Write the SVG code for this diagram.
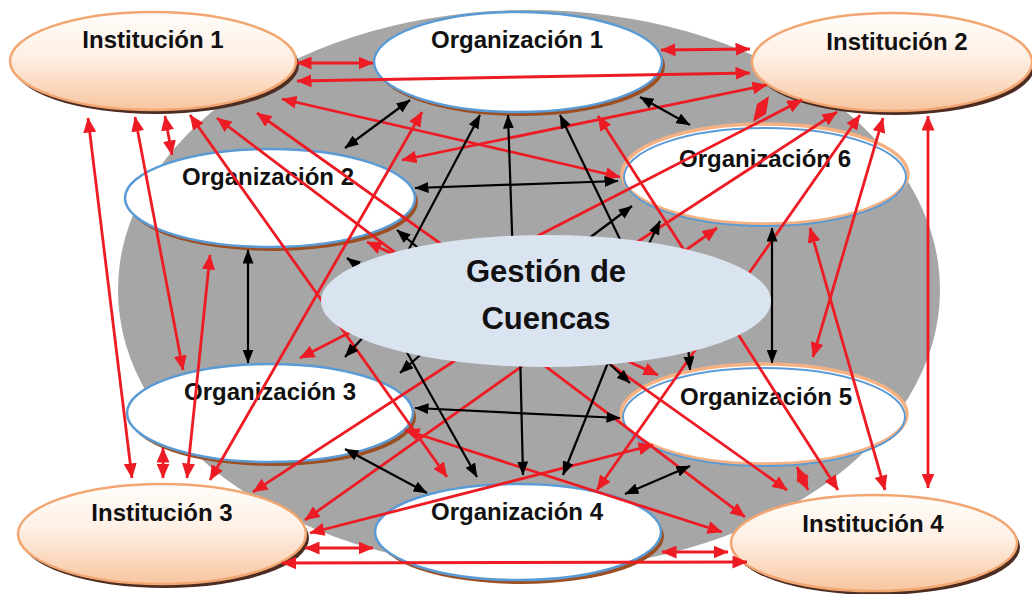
<svg xmlns="http://www.w3.org/2000/svg" width="1032" height="594" viewBox="0 0 1032 594">
<defs>
<linearGradient id="gInst" x1="0" y1="0" x2="0" y2="1">
<stop offset="0" stop-color="#fffdfb"/>
<stop offset="0.45" stop-color="#fef0e4"/>
<stop offset="1" stop-color="#f8c5a0"/>
</linearGradient>
<marker id="rh" viewBox="0 0 15 13" refX="14.5" refY="6.5" markerWidth="15" markerHeight="13" markerUnits="userSpaceOnUse" orient="auto-start-reverse">
<path d="M0,0 L15,6.5 L0,13 z" fill="#ed1c24"/>
</marker>
<marker id="bh" viewBox="0 0 14 11" refX="13.5" refY="5.5" markerWidth="14" markerHeight="11" markerUnits="userSpaceOnUse" orient="auto-start-reverse">
<path d="M0,0 L14,5.5 L0,11 z" fill="#000"/>
</marker>
</defs>
<style>
.inst-sh{fill:#4d2c22}
.inst{fill:url(#gInst);stroke:#f2a772;stroke-width:2.5}
.org-sh{fill:#9c4f22}
.org{fill:#fff;stroke:#5b9bd5;stroke-width:2.5}
.orgo{fill:#fff;stroke:#f4b183;stroke-width:3.5}
.orgb{fill:none;stroke:#5b9bd5;stroke-width:2}
.lbl{font-family:"Liberation Sans",Arial,sans-serif;font-weight:bold;font-size:24px;fill:#111;text-anchor:middle}
.big{font-size:31px}
.r2{stroke:#ed1c24;stroke-width:2.8;fill:none;marker-start:url(#rh);marker-end:url(#rh)}
.r1{stroke:#ed1c24;stroke-width:2.8;fill:none;marker-end:url(#rh)}
.b2{stroke:#000;stroke-width:2.2;fill:none;marker-start:url(#bh);marker-end:url(#bh)}
.b1{stroke:#000;stroke-width:2.2;fill:none;marker-end:url(#bh)}
</style>
<rect width="1032" height="594" fill="#fff"/>
<ellipse id="background" cx="529" cy="290" rx="411" ry="280" fill="#a6a6a6"/>

<g id="inst1">
<ellipse class="inst-sh" cx="156" cy="65" rx="143" ry="49"/>
<ellipse class="inst" cx="153" cy="61" rx="143" ry="49"/>
<text class="lbl" x="153" y="48">Institución 1</text>
</g>
<g id="inst2">
<ellipse class="inst-sh" cx="895" cy="66" rx="140" ry="49"/>
<ellipse class="inst" cx="892" cy="62" rx="140" ry="49"/>
<text class="lbl" x="897" y="50">Institución 2</text>
</g>
<g id="inst3">
<ellipse class="inst-sh" cx="165" cy="538" rx="144" ry="50"/>
<ellipse class="inst" cx="162" cy="534" rx="144" ry="50"/>
<text class="lbl" x="162" y="521">Institución 3</text>
</g>
<g id="inst4">
<ellipse class="inst-sh" cx="877" cy="547" rx="143" ry="48"/>
<ellipse class="inst" cx="874" cy="543" rx="143" ry="48"/>
<text class="lbl" x="873" y="532">Institución 4</text>
</g>
<g id="org1">
<ellipse class="org-sh" cx="521" cy="66" rx="144" ry="50"/>
<ellipse class="org" cx="518" cy="62" rx="144" ry="50"/>
<text class="lbl" x="517" y="48">Organización 1</text>
</g>
<g id="org2">
<ellipse class="org-sh" cx="273" cy="202" rx="145" ry="49"/>
<ellipse class="org" cx="270" cy="198" rx="145" ry="49"/>
<text class="lbl" x="268" y="185">Organización 2</text>
</g>
<g id="org3">
<ellipse class="org-sh" cx="273" cy="417" rx="143" ry="49"/>
<ellipse class="org" cx="270" cy="413" rx="143" ry="49"/>
<text class="lbl" x="270" y="400">Organización 3</text>
</g>
<g id="org4">
<ellipse class="org-sh" cx="521" cy="536" rx="143" ry="48"/>
<ellipse class="org" cx="518" cy="532" rx="143" ry="48"/>
<text class="lbl" x="517" y="520">Organización 4</text>
</g>
<g id="org5">
<ellipse class="orgo" cx="764" cy="414" rx="143" ry="50"/>
<ellipse class="orgb" cx="764" cy="417" rx="141" ry="49"/>
<text class="lbl" x="766" y="405">Organización 5</text>
</g>
<g id="org6">
<ellipse class="orgo" cx="765" cy="174" rx="143" ry="50"/>
<ellipse class="orgb" cx="765" cy="177" rx="141" ry="49"/>
<text class="lbl" x="765" y="167">Organización 6</text>
</g>

<g id="connectors">
<line class="r2" x1="297" y1="63" x2="373" y2="63"/>
<line class="r2" x1="297" y1="81" x2="750" y2="73"/>
<line class="r2" x1="661" y1="50" x2="750" y2="49"/>
<line class="r2" x1="282" y1="99" x2="620" y2="177"/>
<line class="r2" x1="88" y1="118" x2="132" y2="478"/>
<line class="r2" x1="135" y1="117" x2="183" y2="370"/>
<line class="r2" x1="165" y1="116" x2="172" y2="155"/>
<line class="r2" x1="190" y1="115" x2="447" y2="477"/>
<line class="r2" x1="217" y1="118" x2="745" y2="517"/>
<line class="r2" x1="257" y1="113" x2="787" y2="490"/>
<line class="r2" x1="210" y1="255" x2="187" y2="478"/>
<line class="r2" x1="163" y1="448" x2="163" y2="478"/>
<line class="r2" x1="422" y1="112" x2="210" y2="480"/>
<line class="r2" x1="253" y1="492" x2="837" y2="112"/>
<line class="r2" x1="402" y1="160" x2="767" y2="85"/>
<line class="r2" x1="300" y1="358" x2="802" y2="100"/>
<line class="r2" x1="860" y1="115" x2="597" y2="490"/>
<line class="r2" x1="928" y1="116" x2="928" y2="488"/>
<line class="r2" x1="405" y1="430" x2="722" y2="532"/>
<line class="r2" x1="305" y1="520" x2="717" y2="228"/>
<line class="r2" x1="310" y1="533" x2="653" y2="445"/>
<line class="r2" x1="305" y1="548" x2="373" y2="548"/>
<line class="r2" x1="282" y1="563" x2="747" y2="562"/>
<line class="r2" x1="662" y1="552" x2="728" y2="552"/>
<line class="r2" x1="810" y1="228" x2="885" y2="490"/>
<line class="r2" x1="598" y1="116" x2="838" y2="490"/>
<line class="r2" x1="883" y1="118" x2="813" y2="357"/>
<line class="r2" x1="367" y1="242" x2="658" y2="375"/>
<line class="r2" x1="797" y1="467" x2="808" y2="490"/>
<polygon points="753,122 757,104 769,96 766,114" fill="#ed1c24"/>

<line class="b2" x1="410" y1="100" x2="345" y2="148"/>
<line class="b2" x1="640" y1="97" x2="690" y2="125"/>
<line class="b2" x1="415" y1="188" x2="618" y2="181"/>
<line class="b2" x1="248" y1="250" x2="248" y2="363"/>
<line class="b2" x1="772" y1="228" x2="772" y2="363"/>
<line class="b2" x1="345" y1="449" x2="427" y2="493"/>
<line class="b2" x1="625" y1="494" x2="690" y2="466"/>
<line class="b2" x1="415" y1="408" x2="620" y2="418"/>
<line class="b1" x1="400" y1="266" x2="480" y2="115"/>
<line class="b1" x1="513" y1="260" x2="508" y2="115"/>
<line class="b1" x1="630" y1="260" x2="560" y2="115"/>
<line class="b1" x1="400" y1="340" x2="477" y2="477"/>
<line class="b1" x1="520" y1="350" x2="523" y2="475"/>
<line class="b1" x1="615" y1="345" x2="563" y2="475"/>
<line class="b1" x1="430" y1="258" x2="397" y2="230"/>
<line class="b1" x1="372" y1="276" x2="347" y2="258"/>
<line class="b1" x1="368" y1="332" x2="345" y2="357"/>
<line class="b1" x1="428" y1="348" x2="400" y2="373"/>
<line class="b1" x1="580" y1="245" x2="632" y2="206"/>
<line class="b1" x1="645" y1="252" x2="660" y2="221"/>
<line class="b1" x1="600" y1="355" x2="630" y2="383"/>
<line class="b1" x1="688" y1="345" x2="690" y2="370"/>
</g>

<g id="gestion">
<ellipse cx="546" cy="301" rx="225" ry="66" fill="#dae3f0"/>
<text class="lbl big" x="546" y="282">Gestión de</text>
<text class="lbl big" x="546" y="329">Cuencas</text>
</g>
</svg>
